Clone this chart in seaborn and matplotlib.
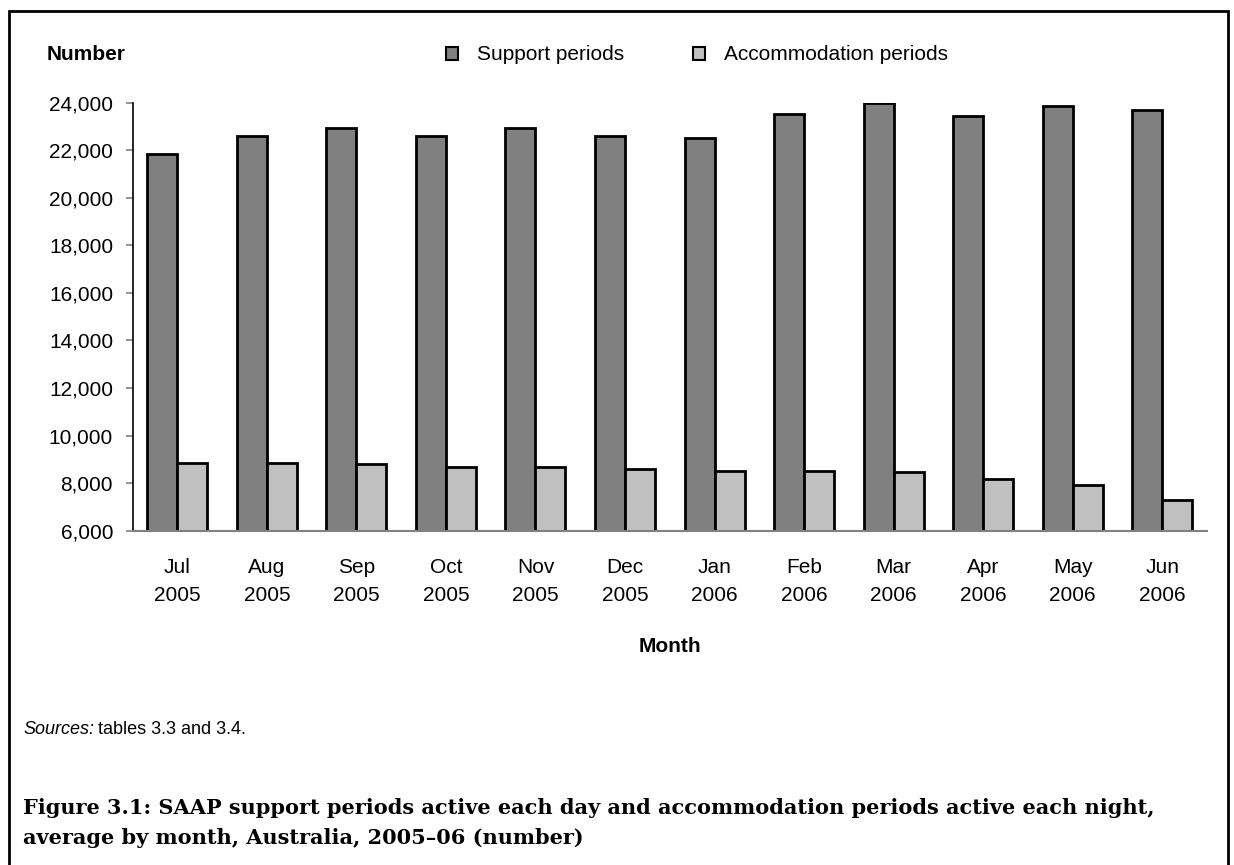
import pandas as pd
import numpy as np
import matplotlib.pyplot as plt
import seaborn as sns
from matplotlib.patches import Patch, Rectangle

# Dados
meses = ["Jul\n2005", "Aug\n2005", "Sep\n2005", "Oct\n2005", "Nov\n2005", "Dec\n2005",
         "Jan\n2006", "Feb\n2006", "Mar\n2006", "Apr\n2006", "May\n2006", "Jun\n2006"]
suporte = [21850, 22600, 22920, 22600, 22920, 22600, 22500, 23510, 23980, 23430, 23850, 23680]
acomodacao = [8850, 8850, 8790, 8690, 8690, 8605, 8520, 8520, 8455, 8185, 7930, 7280]
series = ["Support periods", "Accommodation periods"]
cores = ["#808080", "#c0c0c0"]

df = pd.DataFrame({
    "mes": meses * 2,
    "valor": suporte + acomodacao,
    "serie": [series[0]] * len(meses) + [series[1]] * len(meses),
})

sns.set_style("white")
plt.rcParams["font.family"] = ["Liberation Sans", "DejaVu Sans"]
plt.rcParams["text.color"] = "black"

fig = plt.figure(figsize=(12.34, 8.65), dpi=100)
ax = fig.add_axes([0.1074, 0.3865, 0.8707, 0.4948])

sns.barplot(data=df, x="mes", y="valor", hue="serie", palette=cores,
            width=0.67, gap=0, edgecolor="black", linewidth=2.0,
            legend=False, ax=ax)

ax.set_ylim(6000, 24000)
ax.set_yticks(range(6000, 24001, 2000))
ax.set_yticklabels([f"{v:,}" for v in range(6000, 24001, 2000)], fontsize=15)
ax.tick_params(axis="y", length=5, width=1.2, color="#808080", pad=9, left=True,
               labelcolor="black")
ax.tick_params(axis="x", length=0, pad=20, labelsize=15, labelcolor="black")
for lab in ax.get_xticklabels():
    lab.set_linespacing(1.6)
ax.set_xlabel("")
ax.set_ylabel("")
for s in ["top", "right"]:
    ax.spines[s].set_visible(False)
ax.spines["left"].set_color("black")
ax.spines["left"].set_linewidth(1.2)
ax.spines["bottom"].set_color("#808080")
ax.spines["bottom"].set_linewidth(1.5)

# Legenda
handles = [Patch(facecolor=c, edgecolor="black", linewidth=1.5) for c in cores]
fig.legend(handles, series, loc="center", bbox_to_anchor=(697 / 1234, 1 - 55 / 865),
           ncol=2, frameon=False, fontsize=15, handlelength=0.6, handleheight=0.6,
           handletextpad=0.9, columnspacing=3.3)

# Textos
fig.text(47 / 1234, 1 - 55 / 865, "Number", fontsize=15, fontweight="bold", va="center")
fig.text(670 / 1234, 1 - 646 / 865, "Month", fontsize=15, fontweight="bold",
         va="center", ha="center")
t = fig.text(23 / 1234, 1 - 730 / 865, "Sources:", fontsize=13, style="italic", va="center")
fig.canvas.draw()
bb = t.get_window_extent()
fig.text(bb.x1 / fig.bbox.width + 0.003, 1 - 730 / 865, "tables 3.3 and 3.4.",
         fontsize=13, va="center")

titulo = ("Figure 3.1: SAAP support periods active each day and accommodation periods active each night,\n"
          "average by month, Australia, 2005–06 (number)")
fig.text(23 / 1234, 1 - 823 / 865, titulo, fontsize=15, fontweight="bold",
         family=["DejaVu Serif", "Liberation Serif"], va="center", linespacing=1.6)

# Moldura
fig.patches.append(Rectangle((9 / 1234, -0.1), (1228 - 9) / 1234, 1.1 - 11 / 865,
                             transform=fig.transFigure, fill=False,
                             edgecolor="black", linewidth=2))

plt.savefig("out.png", dpi=100)
plt.close()
